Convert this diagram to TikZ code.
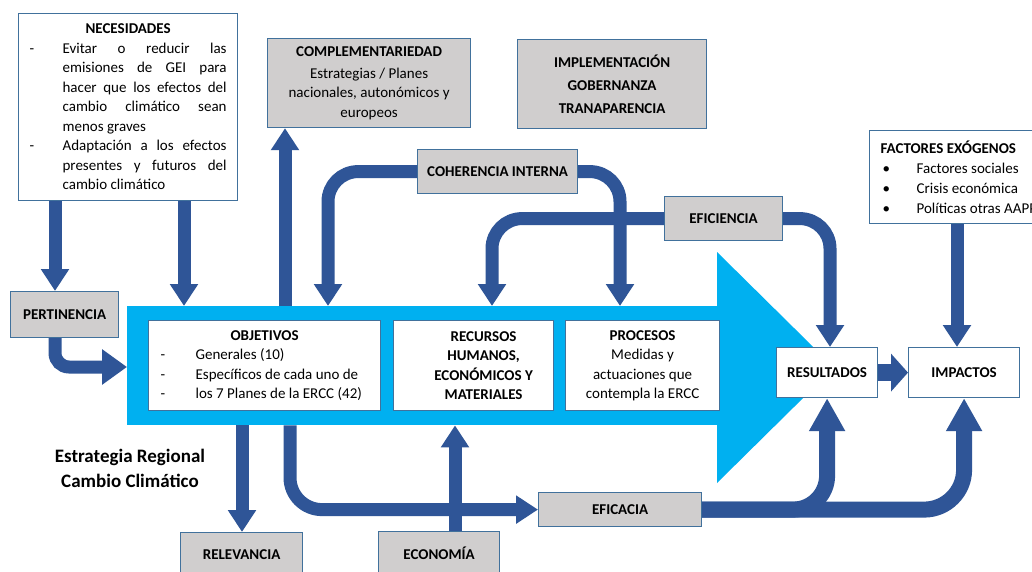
\documentclass[tikz,border=0pt]{standalone}
\usepackage{fontspec}
\setmainfont{Carlito}
\usetikzlibrary{arrows.meta}
\definecolor{arrblue}{HTML}{2F5597}
\definecolor{bigblue}{HTML}{00B0F0}
\definecolor{boxgray}{HTML}{D0CECE}
\definecolor{boxline}{HTML}{41719C}
\newcommand\necd[1]{\hbox to 207pt{\hbox to 38pt{\hskip 5pt -\hfil}\hbox to 164pt{\spaceskip=.23em plus 1fil minus .08em #1}\hfil}}
\newcommand\necn[1]{\hbox to 207pt{\hskip 38pt\hbox to 164pt{\spaceskip=.23em plus 1fil minus .08em #1}\hfil}}
\newcommand\objl[1]{\hbox to 228pt{\hskip 10pt\hbox to 35pt{-\hfil}#1\hfil}}
\newcommand\facl[1]{\hbox to 175pt{\hskip 8pt\hbox to 34pt{\textbullet\hfil}#1\hfil}}
\newcommand\recl[1]{\hbox to 156pt{\hfil\hskip 20pt #1\hfil}}
\begin{document}
\begin{tikzpicture}[x=1pt,y=-1pt,
  font=\fontsize{15}{19.5}\selectfont,
  bx/.style={draw=boxline, line width=1.2pt, inner sep=0pt, align=center, anchor=north west},
  graybox/.style={bx, fill=boxgray},
  whitebox/.style={bx, fill=white},
  bold/.style={font=\fontsize{15}{19.5}\selectfont\bfseries},
  arr/.style={draw=arrblue, line width=13pt, -{Triangle[width=27pt,length=22pt]}},
  arrthick/.style={draw=arrblue, line width=16pt, -{Triangle[width=34pt,length=33pt]}},
]
\clip (0,0) rectangle (1032,572);
\fill[white] (0,0) rectangle (1032,572);
% helper coordinates
\coordinate (a55) at (55,0);
\coordinate (a184) at (184,0);
\coordinate (a285) at (285,0);
\coordinate (a328) at (328,0);
\coordinate (a492) at (492,0);
\coordinate (a620) at (620,0);
\coordinate (a830) at (830,0);
\coordinate (a957) at (957,0);
\coordinate (a242) at (242,0);
\coordinate (a455) at (455,0);
\coordinate (a290) at (290,0);
\coordinate (p1) at (55,367);
% big arrow
\node[fill=bigblue, inner sep=0pt, minimum width=591pt, minimum height=119pt, anchor=north west] (ercc) at (127,306) {};
\fill[bigblue] (717,252) -- (834,367.5) -- (717,483) -- cycle;
% boxes
\node[whitebox, minimum width=219pt, minimum height=187pt] (nec) at (18,13) {%
  \textbf{NECESIDADES}\\
  \necd{Evitar o reducir las}\\
  \necn{emisiones de GEI para}\\
  \necn{hacer que los efectos del}\\
  \necn{cambio climático sean}\\
  \necn{menos graves\hfill}\\
  \necd{Adaptación a los efectos}\\
  \necn{presentes y futuros del}\\
  \necn{cambio climático\hfill}};
\node[graybox, minimum width=203pt, minimum height=89pt] (comp) at (267,38) {%
  \textbf{COMPLEMENTARIEDAD}\\[2pt]Estrategias / Planes\\nacionales, autonómicos y\\europeos};
\node[graybox, minimum width=189pt, minimum height=89pt, font=\fontsize{15}{23}\selectfont\bfseries] (impl) at (517,39) {%
  IMPLEMENTACIÓN\\GOBERNANZA\\TRANAPARENCIA};
\node[whitebox, minimum width=185pt, minimum height=93pt, align=left, font=\fontsize{15}{20}\selectfont] (fac) at (869,130) {%
  \hbox to 175pt{\hskip 6pt\bfseries FACTORES EXÓGENOS\hfil}\\
  \facl{Factores sociales}\\
  \facl{Crisis económica}\\
  \facl{Políticas otras AAPP}};
\node[graybox, bold, minimum width=160pt, minimum height=44pt] (coh) at (417,149) {COHERENCIA INTERNA};
\node[graybox, bold, minimum width=118pt, minimum height=44pt] (efi) at (664,196) {EFICIENCIA};
\node[graybox, bold, minimum width=108pt, minimum height=46pt] (pert) at (10,291) {PERTINENCIA};
\node[whitebox, minimum width=232pt, minimum height=90pt] (obj) at (148,320) {%
  \textbf{OBJETIVOS}\\
  \objl{Generales (10)}\\
  \objl{Específicos de cada uno de}\\
  \objl{los 7 Planes de la ERCC (42)}};
\node[whitebox, bold, minimum width=160pt, minimum height=90pt] (rec) at (393,320) {%
  \recl{RECURSOS}\\\recl{HUMANOS,}\\\recl{ECONÓMICOS Y}\\\recl{MATERIALES}};
\node[whitebox, minimum width=154pt, minimum height=90pt] (proc) at (565,320) {%
  \textbf{PROCESOS}\\Medidas y\\actuaciones que\\contempla la ERCC};
\node[whitebox, bold, minimum width=101pt, minimum height=50pt] (res) at (776,347) {RESULTADOS};
\node[whitebox, bold, minimum width=111pt, minimum height=50pt] (imp) at (908,347) {IMPACTOS};
\node[graybox, bold, minimum width=163pt, minimum height=34pt] (efc) at (538,492) {EFICACIA};
\node[graybox, bold, minimum width=122pt, minimum height=44pt] (rel) at (180,532) {RELEVANCIA};
\node[graybox, bold, minimum width=121pt, minimum height=44pt] (eco) at (378,531) {ECONOMÍA};
\node[align=center, font=\fontsize{19}{25}\selectfont\bfseries] (title) at (130,468) {Estrategia Regional\\Cambio Climático};
% connectors
\draw[arr] (nec.south -| a55) -- (pert.north -| a55);
\draw[arr] (nec.south -| a184) -- (ercc.north -| a184);
\draw[arr, -{Triangle[width=34pt,length=25pt]}, rounded corners=14pt] (pert.south -| p1) |- (ercc.west |- p1);
\draw[arr] (ercc.north -| a285) -- (comp.south -| a285);
\draw[arr, rounded corners=30pt] (coh.west) -| (ercc.north -| a328);
\draw[arr, rounded corners=30pt] (coh.east) -| (ercc.north -| a620);
\draw[arr, rounded corners=30pt] (efi.west) -| (ercc.north -| a492);
\draw[arr, rounded corners=30pt] (efi.east) -| (res.north -| a830);
\draw[arr] (fac.south -| a957) -- (imp.north -| a957);
\draw[draw=arrblue, line width=17pt, -{Triangle[width=37pt,length=17pt]}] (res.east) -- (imp.west);
\draw[arr] (ercc.south -| a242) -- (rel.north -| a242);
\draw[arr, rounded corners=32pt] (ercc.south -| a290) |- (efc.west);
\draw[arr] (eco.north -| a455) -- (ercc.south -| a455);
\draw[arrthick, rounded corners=34pt] (efc.east) -| (res.south);
\draw[arrthick, rounded corners=40pt] (efc.east) -| (imp.south);
\end{tikzpicture}
\end{document}
